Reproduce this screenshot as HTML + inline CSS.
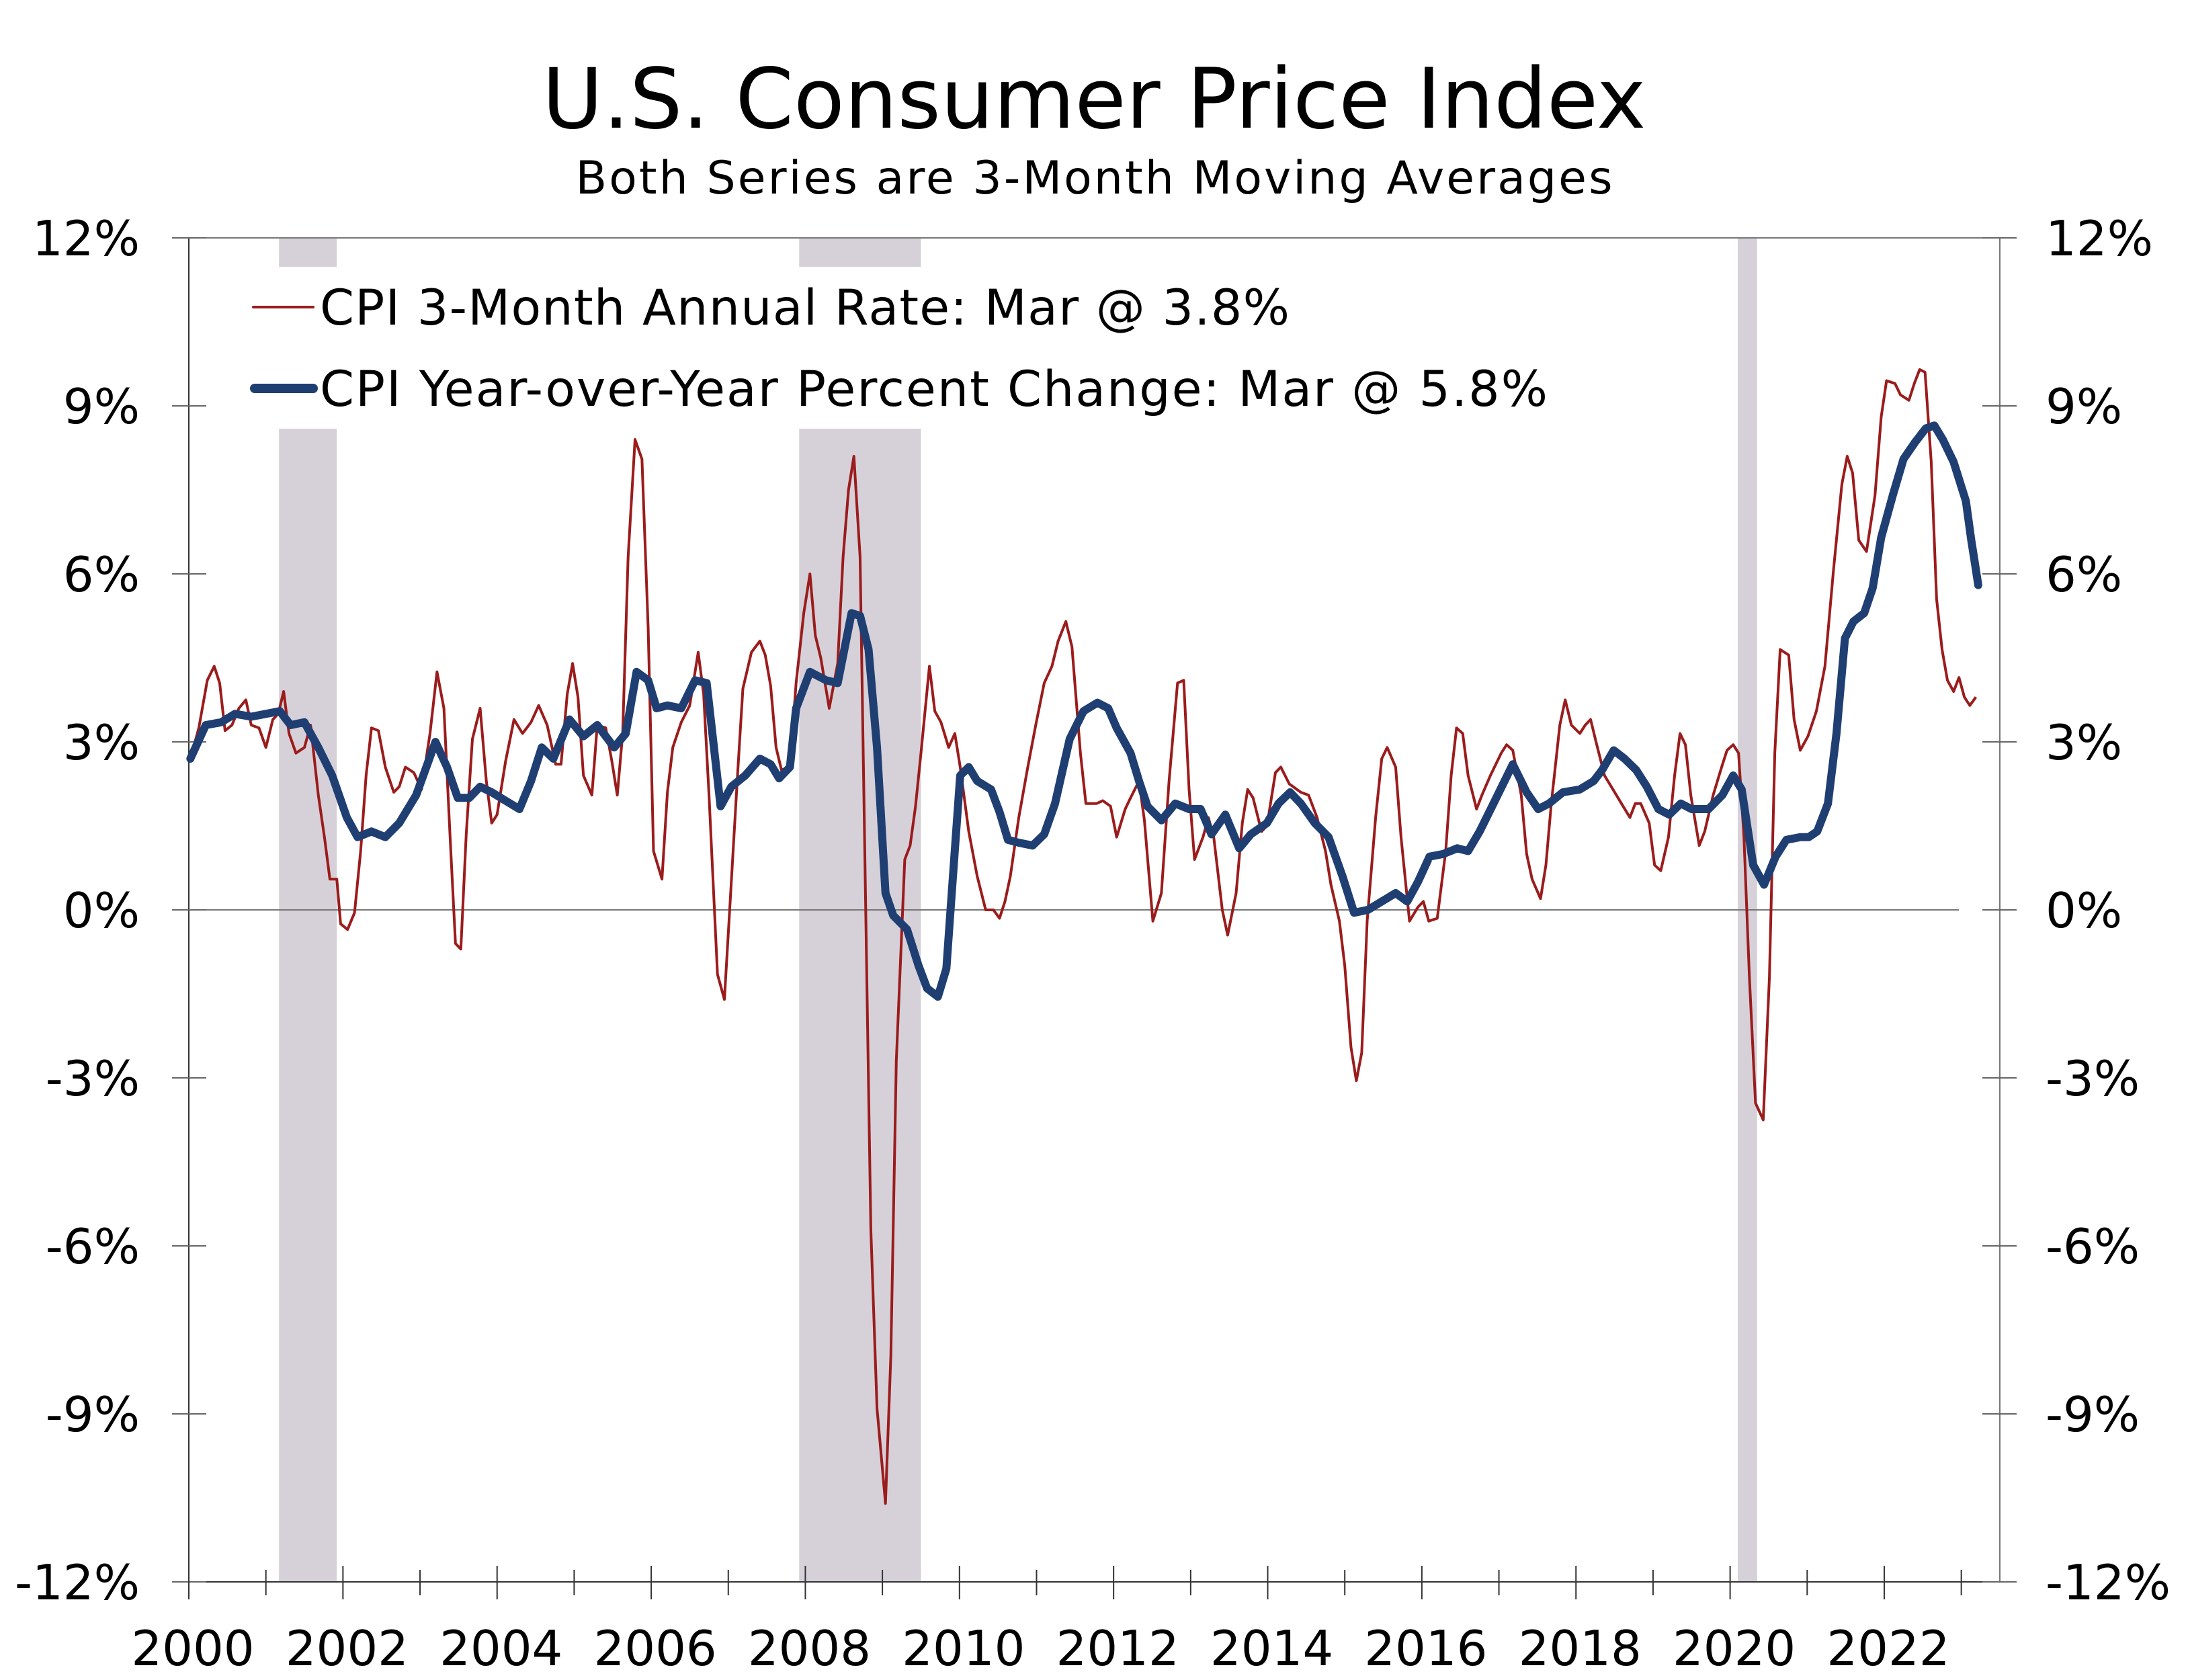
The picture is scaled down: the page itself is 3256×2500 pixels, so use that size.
<!DOCTYPE html>
<html><head><meta charset="utf-8">
<style>
html,body{margin:0;padding:0;background:#fff;}
svg{display:block;}
text{font-family:"DejaVu Sans","Liberation Sans",sans-serif;fill:#000;}
</style></head>
<body>
<svg id="chart" width="3256" height="2500" viewBox="0 0 3256 2500" xmlns="http://www.w3.org/2000/svg">
<rect x="0" y="0" width="3256" height="2500" fill="#fff"/>
<text x="1628" y="190" font-size="124" text-anchor="middle">U.S. Consumer Price Index</text>
<text x="1628" y="288" font-size="68" text-anchor="middle" textLength="1543" lengthAdjust="spacing">Both Series are 3-Month Moving Averages</text>
<g id="recessions"></g>
<g id="axes"></g>
<g id="series"></g>
<g id="legend"></g>
</svg>
<script>
const yearTicks = [2000,2002,2004,2006,2008,2010,2012,2014,2016,2018,2020,2022];
const valueTicks = [-12,-9,-6,-3,0,3,6,9,12];
const recessionStarts = [2001.17, 2007.92, 2020.1];
const recessionEnds = [2001.92, 2009.5, 2020.35];

const yoyYears = [0.02,0.22,0.42,0.60,0.81,1.00,1.18,1.32,1.50,1.68,1.86,2.05,2.19,2.37,2.55,2.73,2.95,3.20,3.35,3.49,3.64,3.78,3.93,4.11,4.29,4.44,4.58,4.73,4.94,5.12,5.30,5.52,5.67,5.81,5.96,6.07,6.21,6.39,6.57,6.72,6.90,7.04,7.22,7.41,7.55,7.66,7.80,7.88,8.06,8.27,8.42,8.60,8.71,8.82,8.93,9.04,9.14,9.32,9.47,9.58,9.72,9.83,9.90,10.01,10.12,10.23,10.41,10.52,10.63,10.77,10.95,11.10,11.24,11.43,11.61,11.79,11.93,12.04,12.22,12.33,12.44,12.62,12.80,12.98,13.13,13.27,13.45,13.63,13.78,13.99,14.14,14.29,14.43,14.61,14.79,14.97,15.12,15.30,15.48,15.66,15.81,15.95,16.10,16.28,16.46,16.60,16.75,16.93,17.18,17.36,17.51,17.65,17.83,18.05,18.23,18.34,18.49,18.63,18.78,18.92,19.07,19.21,19.36,19.50,19.72,19.90,20.04,20.15,20.30,20.44,20.59,20.73,20.91,21.02,21.13,21.27,21.38,21.49,21.60,21.74,21.85,21.96,22.11,22.25,22.40,22.54,22.65,22.76,22.90,23.06,23.13,23.17,23.22];
const yoyValues = [2.7,3.3,3.35,3.5,3.45,3.5,3.55,3.3,3.35,2.9,2.4,1.65,1.3,1.4,1.3,1.55,2.05,3.0,2.55,2.0,2.0,2.2,2.1,1.95,1.8,2.3,2.9,2.7,3.4,3.1,3.3,2.9,3.15,4.25,4.1,3.6,3.65,3.6,4.1,4.05,1.85,2.2,2.4,2.7,2.6,2.35,2.55,3.6,4.25,4.1,4.05,5.3,5.25,4.65,2.9,0.3,-0.1,-0.35,-1.0,-1.4,-1.55,-1.05,0.3,2.4,2.55,2.3,2.15,1.75,1.25,1.2,1.15,1.35,1.9,3.05,3.55,3.7,3.6,3.25,2.8,2.3,1.85,1.6,1.9,1.8,1.8,1.35,1.7,1.1,1.35,1.55,1.9,2.1,1.9,1.55,1.3,0.6,-0.05,0.0,0.15,0.3,0.15,0.5,0.95,1.0,1.1,1.05,1.4,1.9,2.6,2.1,1.8,1.9,2.1,2.15,2.3,2.5,2.85,2.7,2.5,2.2,1.8,1.7,1.9,1.8,1.8,2.05,2.4,2.15,0.8,0.45,0.95,1.25,1.3,1.3,1.4,1.9,3.15,4.85,5.15,5.3,5.75,6.65,7.4,8.05,8.35,8.6,8.65,8.4,8.0,7.3,6.6,6.25,5.8];

const annYears = [0.02,0.13,0.24,0.33,0.40,0.47,0.56,0.65,0.74,0.81,0.91,1.00,1.09,1.16,1.23,1.30,1.39,1.50,1.58,1.68,1.76,1.83,1.92,1.97,2.06,2.15,2.23,2.30,2.37,2.46,2.55,2.66,2.73,2.81,2.92,3.02,3.13,3.22,3.31,3.39,3.46,3.53,3.60,3.68,3.78,3.86,3.93,4.00,4.11,4.22,4.33,4.44,4.54,4.65,4.76,4.83,4.91,4.98,5.05,5.12,5.23,5.30,5.41,5.49,5.56,5.63,5.70,5.79,5.88,5.96,6.03,6.14,6.21,6.28,6.39,6.50,6.61,6.68,6.75,6.86,6.95,7.02,7.12,7.19,7.30,7.41,7.48,7.55,7.62,7.69,7.80,7.88,7.98,8.06,8.13,8.20,8.31,8.42,8.49,8.56,8.63,8.71,8.78,8.85,8.93,9.04,9.11,9.18,9.29,9.36,9.43,9.50,9.61,9.68,9.76,9.86,9.94,10.01,10.12,10.23,10.34,10.44,10.52,10.59,10.66,10.77,10.88,10.99,11.10,11.20,11.28,11.38,11.46,11.57,11.64,11.78,11.86,11.96,12.04,12.15,12.22,12.33,12.40,12.51,12.62,12.72,12.83,12.91,12.98,13.05,13.16,13.23,13.30,13.41,13.48,13.59,13.67,13.74,13.81,13.92,13.99,14.10,14.17,14.28,14.43,14.53,14.64,14.75,14.82,14.93,15.00,15.08,15.15,15.22,15.29,15.40,15.48,15.55,15.66,15.73,15.84,15.95,16.02,16.09,16.20,16.31,16.38,16.45,16.53,16.60,16.71,16.78,16.89,16.96,17.03,17.10,17.18,17.29,17.36,17.43,17.54,17.61,17.68,17.79,17.86,17.94,18.05,18.12,18.19,18.26,18.37,18.48,18.59,18.70,18.77,18.84,18.95,19.02,19.10,19.20,19.28,19.35,19.42,19.49,19.60,19.67,19.78,19.89,19.96,20.04,20.11,20.18,20.25,20.33,20.43,20.51,20.58,20.65,20.76,20.83,20.91,21.01,21.12,21.23,21.34,21.45,21.52,21.59,21.67,21.77,21.88,21.96,22.03,22.14,22.21,22.32,22.39,22.46,22.53,22.61,22.68,22.75,22.82,22.90,22.97,23.04,23.11,23.19];
const annValues = [2.7,3.25,4.1,4.35,4.05,3.2,3.3,3.6,3.75,3.3,3.25,2.9,3.4,3.5,3.9,3.15,2.8,2.9,3.3,2.05,1.3,0.55,0.55,-0.25,-0.35,-0.05,1.05,2.4,3.25,3.2,2.55,2.1,2.2,2.55,2.45,2.15,3.15,4.25,3.6,1.3,-0.6,-0.7,1.35,3.05,3.6,2.3,1.55,1.7,2.65,3.4,3.15,3.35,3.65,3.3,2.6,2.6,3.85,4.4,3.8,2.4,2.05,3.3,3.25,2.65,2.05,3.15,6.3,8.4,8.05,5.05,1.05,0.55,2.1,2.9,3.35,3.65,4.6,3.85,2.05,-1.15,-1.6,0.05,2.4,3.95,4.6,4.8,4.55,4.0,2.9,2.5,2.55,4.05,5.3,6.0,4.9,4.5,3.6,4.4,6.3,7.5,8.1,6.3,0.3,-5.7,-8.9,-10.6,-7.95,-2.7,0.9,1.15,1.85,2.8,4.35,3.55,3.35,2.9,3.15,2.55,1.4,0.6,0,0,-0.15,0.15,0.6,1.65,2.5,3.3,4.05,4.35,4.8,5.15,4.7,2.8,1.9,1.9,1.95,1.85,1.3,1.8,2.0,2.3,1.6,-0.2,0.3,2.3,4.05,4.1,2.15,0.9,1.3,1.65,1.3,0,-0.45,0.3,1.55,2.15,2.0,1.4,1.5,2.45,2.55,2.25,2.1,2.05,1.65,1.05,0.45,-0.2,-1.0,-2.45,-3.05,-2.55,-0.2,1.65,2.7,2.9,2.55,1.3,-0.2,0.05,0.15,-0.2,-0.15,1.05,2.4,3.25,3.15,2.4,1.8,2.05,2.4,2.6,2.8,2.95,2.85,2.05,1.0,0.55,0.2,0.8,1.9,3.3,3.75,3.3,3.15,3.3,3.4,3.0,2.4,2.15,1.9,1.65,1.9,1.9,1.55,0.8,0.7,1.3,2.4,3.15,2.95,2.05,1.15,1.4,2.05,2.55,2.85,2.95,2.8,1.3,-1.2,-3.45,-3.75,-1.2,2.8,4.65,4.55,3.4,2.85,3.1,3.55,4.35,6.05,7.6,8.1,7.8,6.6,6.4,7.4,8.8,9.45,9.4,9.2,9.1,9.4,9.65,9.6,8.0,5.55,4.65,4.1,3.9,4.15,3.8,3.65,3.8];

const NS = "http://www.w3.org/2000/svg";
const X0 = 281, PXYEAR = 114.68, Y0 = 1354, PXPCT = 83.33;
const L = 281, R = 2976, T = 354, B = 2354;
function xs(year){ return X0 + (year - 2000) * PXYEAR; }
function ys(v){ return Y0 - v * PXPCT; }
function mk(tag, attrs, parent){
  const e = document.createElementNS(NS, tag);
  for (const k in attrs) e.setAttribute(k, attrs[k]);
  parent.appendChild(e); return e;
}
const gRec = document.getElementById('recessions');
const gAx = document.getElementById('axes');
const gS = document.getElementById('series');
const gL = document.getElementById('legend');

recessionStarts.forEach((s, i) => {
  const x1 = xs(s), x2 = xs(recessionEnds[i]);
  const inLegend = x1 < 1400;
  const segs = inLegend ? [[T, 397], [638, B]] : [[T, B]];
  segs.forEach(sg => {
    const r = mk('rect', {x: x1, y: sg[0], width: x2 - x1, height: sg[1] - sg[0], fill: '#d6d1d9'}, gRec);
    
    
  });
});

const topBorder = mk('line', {x1: 256, y1: T, x2: R, y2: T, stroke: '#777', 'stroke-width': 2}, gAx);


const leftAxis = mk('line', {x1: L, y1: T, x2: L, y2: B + 26, stroke: '#333', 'stroke-width': 2}, gAx);


const rightAxis = mk('line', {x1: R, y1: T, x2: R, y2: B, stroke: '#777', 'stroke-width': 2}, gAx);


const bottomAxis = mk('line', {x1: 256, y1: B, x2: R, y2: B, stroke: '#333', 'stroke-width': 2}, gAx);


const zeroLine = mk('line', {x1: L, y1: ys(0), x2: 2915, y2: ys(0), stroke: '#777', 'stroke-width': 2}, gAx);



valueTicks.forEach(v => {
  const y = ys(v);
  const t1 = mk('line', {x1: 256, y1: y, x2: 307, y2: y, stroke: '#666', 'stroke-width': 2}, gAx);
  
  
  const t2 = mk('line', {x1: 2950, y1: y, x2: 3001, y2: y, stroke: '#666', 'stroke-width': 2}, gAx);
  
  
  const lab = mk('text', {x: 208, y: y + 26, 'font-size': 72, 'text-anchor': 'end'}, gAx);
  lab.textContent = v + '%';
  
  
  const lab2 = mk('text', {x: 3044, y: y + 26, 'font-size': 72, 'text-anchor': 'start'}, gAx);
  lab2.textContent = v + '%';
  
  
});
for (let yr = 2000; yr <= 2023; yr++) {
  const even = yearTicks.indexOf(yr) >= 0;
  const t = mk('line', {x1: xs(yr), y1: even ? B - 24 : B - 18, x2: xs(yr), y2: even ? B + 26 : B + 20, stroke: '#333', 'stroke-width': 2}, gAx);
  
  
}
yearTicks.forEach(yr => {
  const lab = mk('text', {x: xs(yr) + 6, y: 2478, 'font-size': 72, 'text-anchor': 'middle'}, gAx);
  lab.textContent = String(yr);
  
  
});

function linePath(years, vals){
  return years.map((t, i) => (i ? 'L' : 'M') + xs(2000 + t).toFixed(1) + ' ' + ys(vals[i]).toFixed(1)).join(' ');
}
const redLine = mk('path', {d: linePath(annYears, annValues), fill: 'none', stroke: '#9b1c1c', 'stroke-width': 4, 'stroke-linejoin': 'round'}, gS);


const blueLine = mk('path', {d: linePath(yoyYears, yoyValues), fill: 'none', stroke: '#1f3f73', 'stroke-width': 12, 'stroke-linejoin': 'round', 'stroke-linecap': 'round'}, gS);



const l1 = mk('line', {x1: 377, y1: 457, x2: 466, y2: 457, stroke: '#9b1c1c', 'stroke-width': 4, 'stroke-linecap': 'round'}, gL);


const tx1 = mk('text', {x: 476, y: 483, 'font-size': 73, textLength: 1443, lengthAdjust: 'spacing'}, gL);
tx1.textContent = 'CPI 3-Month Annual Rate: Mar @ 3.8%';


const l2 = mk('line', {x1: 379, y1: 578, x2: 466, y2: 578, stroke: '#1f3f73', 'stroke-width': 14, 'stroke-linecap': 'round'}, gL);


const tx2 = mk('text', {x: 476, y: 604, 'font-size': 73, textLength: 1827, lengthAdjust: 'spacing'}, gL);
tx2.textContent = 'CPI Year-over-Year Percent Change: Mar @ 5.8%';


</script>
</body></html>
